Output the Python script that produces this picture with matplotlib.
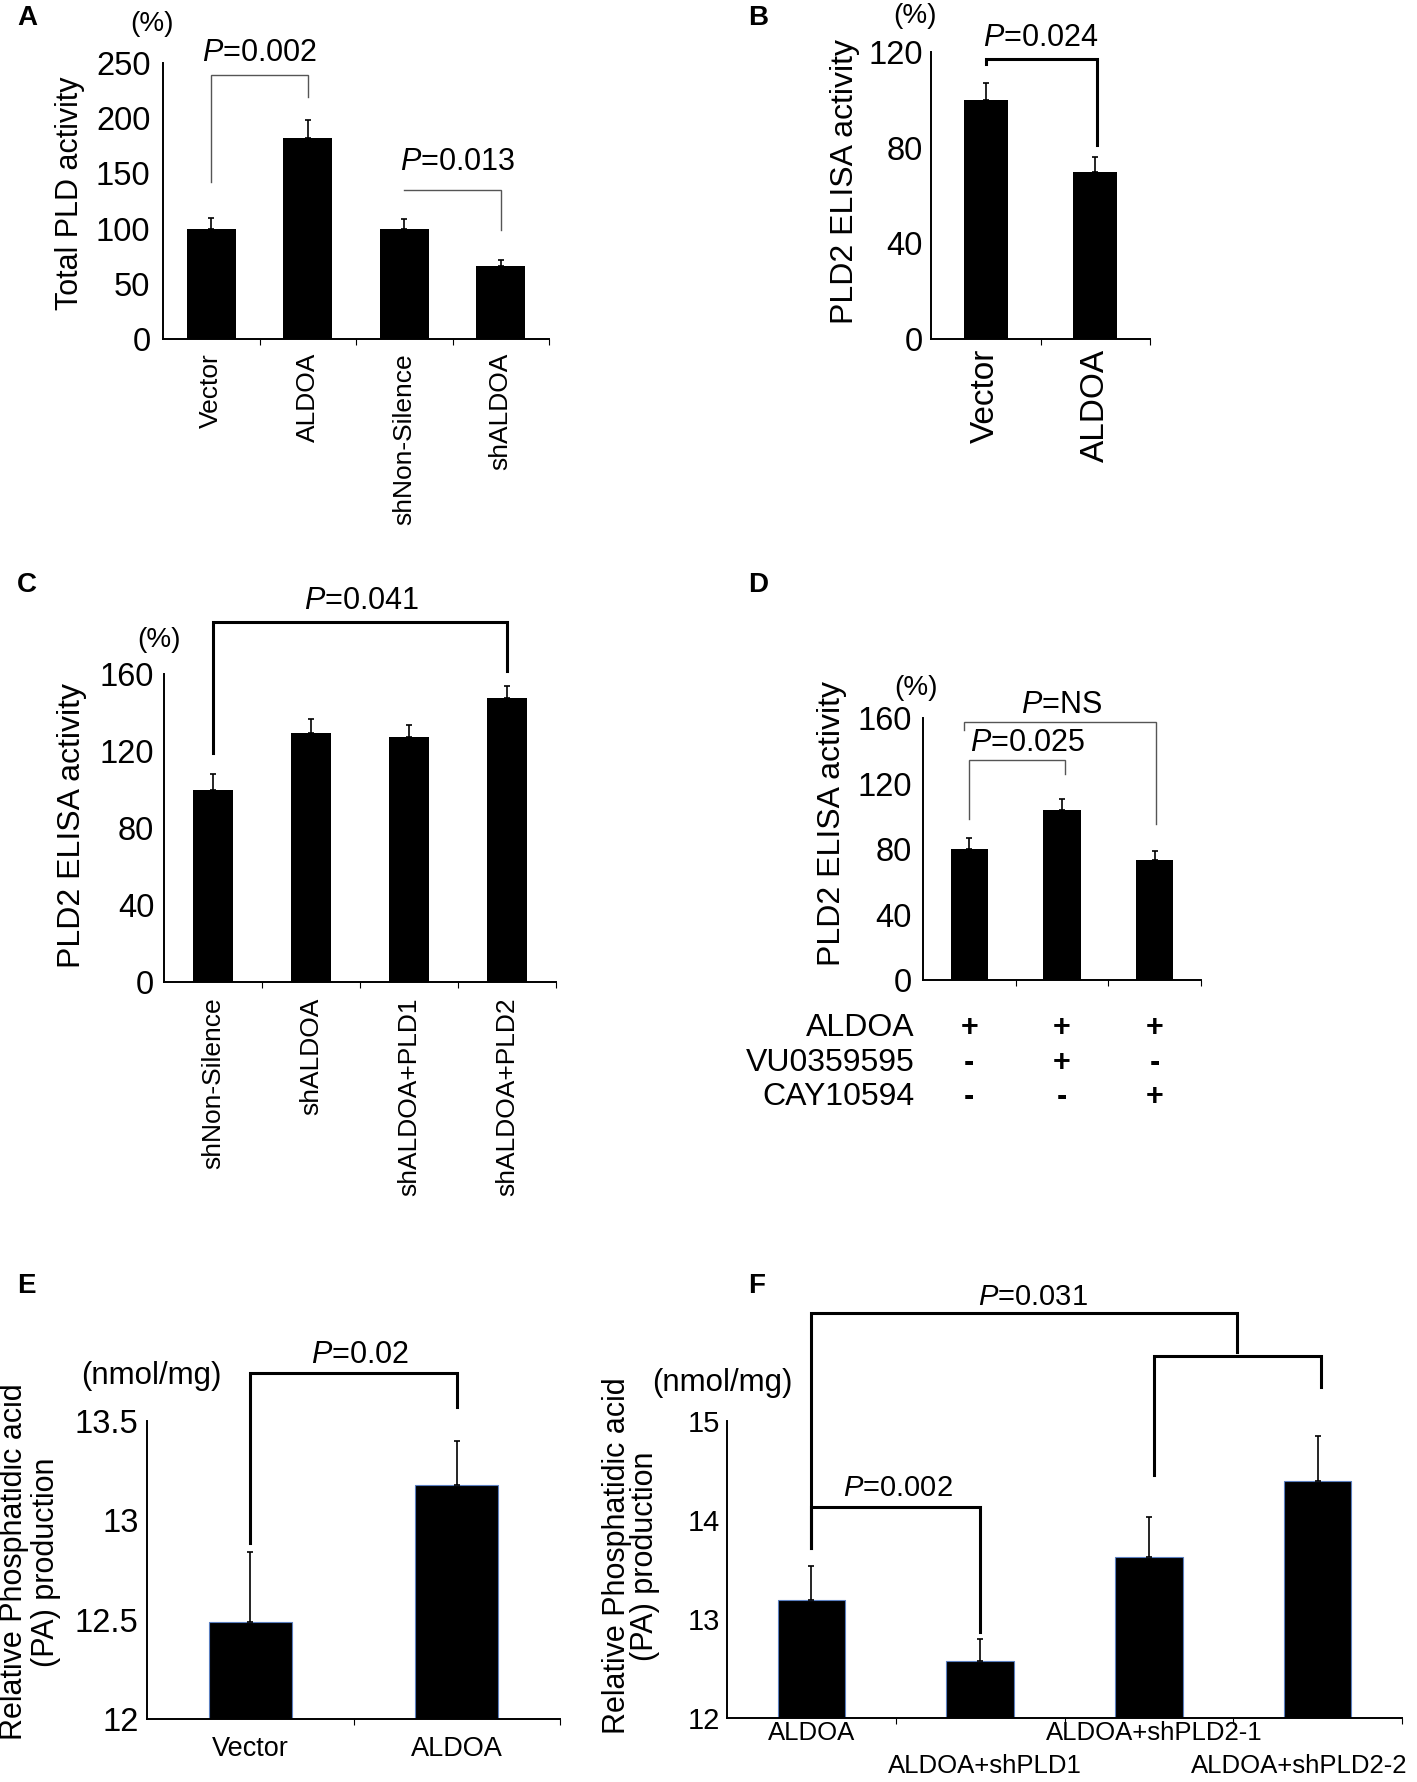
import matplotlib
matplotlib.use("Agg")
import matplotlib.pyplot as plt
import numpy as np

plt.rcParams['font.family'] = ['Liberation Sans', 'DejaVu Sans']
plt.rcParams['mathtext.fontset'] = 'custom'
plt.rcParams['mathtext.it'] = 'Liberation Sans:italic'
plt.rcParams['mathtext.rm'] = 'Liberation Sans'

# ---------------- data ----------------
a_cats = ["Vector", "ALDOA", "shNon-Silence", "shALDOA"]
a_vals = [100, 182, 100, 66]
a_err = [10, 16, 9, 6]

b_cats = ["Vector", "ALDOA"]
b_vals = [100, 70]
b_err = [7, 6]

c_cats = ["shNon-Silence", "shALDOA", "shALDOA+PLD1", "shALDOA+PLD2"]
c_vals = [100, 129.5, 127.5, 147.5]
c_err = [8, 7, 6, 6.5]

d_vals = [80, 104, 73]
d_err = [7, 6.5, 6]
d_rows = ["ALDOA", "VU0359595", "CAY10594"]
d_signs = [["+", "+", "+"], ["-", "+", "-"], ["-", "-", "+"]]

e_cats = ["Vector", "ALDOA"]
e_vals = [12.49, 13.18]
e_err = [0.35, 0.22]

f_cats = ["ALDOA", "ALDOA+shPLD1", "ALDOA+shPLD2-1", "ALDOA+shPLD2-2"]
f_vals = [13.19, 12.58, 13.63, 14.39]
f_err = [0.35, 0.22, 0.40, 0.46]

# brackets: (x_left, x_right, y_top, y_left_end, y_right_end)
a_brackets = [(0, 1, 239, 142, 219), (2, 3, 135, 135, 99)]
a_ptext = [(0.5, 259, "$P$=0.002"), (2.55, 160, "$P$=0.013")]
b_brackets = [(0, 1.02, 117, 115, 81)]
b_ptext = [(0.5, 126, "$P$=0.024")]
c_brackets = [(0, 3, 187, 119, 161.5)]
c_ptext = [(1.52, 198, "$P$=0.041")]
d_brackets = [(-0.06, 2.01, 157.8, 152.4, 95.3), (0, 1.03, 134.5, 98.5, 126)]
d_ptext = [(0.99, 168, "$P$=NS"), (0.63, 145, "$P$=0.025")]
e_brackets = [(0, 1, 13.74, 12.885, 13.57)]
e_ptext = [(0.53, 13.83, "$P$=0.02")]
f_brackets = [(0, 1, 14.13, 13.72, 12.87), (0, 2.52, 16.09, 13.72, 15.70),
              (2.03, 3.02, 15.66, 14.45, 15.34)]
f_ptext = [(0.51, 14.32, "$P$=0.002"), (1.31, 16.25, "$P$=0.031")]

W, H = 1417, 1782
fig = plt.figure(figsize=(W / 100, H / 100), dpi=100)

TICK_FS = 23.5


def ax_at(l, r, t, b):
    return fig.add_axes([l / W, 1 - b / H, (r - l) / W, (b - t) / H])


def ftxt(x, y, s, **kw):
    fig.text(x / W, 1 - y / H, s, **kw)


def base(ax, vals, err, width, ylim, yticks, ytl, tick_fs, ypad, edge=None):
    n = len(vals)
    x = np.arange(n)
    kw = {}
    if edge:
        kw = dict(edgecolor=edge, linewidth=0.8)
    ax.bar(x, vals, width=width, color='black', zorder=2, **kw)
    ax.errorbar(x, vals, yerr=[np.zeros(n), err], fmt='none', ecolor='black',
                elinewidth=1.2, capsize=2, capthick=1.2, zorder=3)
    ax.set_xlim(-0.5, n - 0.5)
    ax.set_ylim(*ylim)
    ax.set_yticks(yticks)
    ax.set_yticklabels(ytl, fontsize=tick_fs)
    ax.tick_params(axis='y', length=0, pad=ypad)
    ax.set_xticks(x)
    ax.set_xticks(np.arange(n) + 0.5, minor=True)
    ax.tick_params(axis='x', which='minor', length=4, width=0.8, direction='out')
    ax.tick_params(axis='x', which='major', length=0)
    for s in ['top', 'right']:
        ax.spines[s].set_visible(False)
    for s in ['left', 'bottom']:
        ax.spines[s].set_linewidth(1.4)
    return x


def brackets(ax, brs, color, lw):
    for (x1, x2, yt, yl, yr) in brs:
        ax.plot([x1, x1, x2, x2], [yl, yt, yt, yr], color=color, lw=lw,
                clip_on=False, solid_joinstyle='miter', zorder=4)


def ptexts(ax, items, fs):
    for (x, y, s) in items:
        ax.text(x, y, s, fontsize=fs, ha='center', va='center', clip_on=False)


LET_FS = 20

# ---------------- A ----------------
axA = ax_at(163, 549, 63, 339)
base(axA, a_vals, a_err, 0.51, (0, 250), [0, 50, 100, 150, 200, 250],
     ["0", "50", "100", "150", "200", "250"], TICK_FS, 9)
axA.set_xticklabels(a_cats, rotation=90, fontsize=19, va='top')
axA.tick_params(axis='x', which='major', pad=10)
brackets(axA, a_brackets, '#555555', 1.0)
ptexts(axA, a_ptext, 22)
ftxt(70, 193, "Total PLD activity", rotation=90, ha='center', va='center', fontsize=22)
ftxt(152, 24, "(%)", ha='center', va='center', fontsize=20)
ftxt(17, 18, "A", ha='left', va='center', fontsize=LET_FS, fontweight='bold')

# ---------------- B ----------------
axB = ax_at(931, 1150, 52, 339)
base(axB, b_vals, b_err, 0.40, (0, 120), [0, 40, 80, 120], ["0", "40", "80", "120"],
     TICK_FS, 6)
axB.set_xticklabels(b_cats, rotation=90, fontsize=24, va='top')
axB.tick_params(axis='x', which='major', pad=7)
brackets(axB, b_brackets, 'black', 2.2)
ptexts(axB, b_ptext, 22)
ftxt(845, 181, "PLD2 ELISA activity", rotation=90, ha='center', va='center', fontsize=23)
ftxt(915, 16, "(%)", ha='center', va='center', fontsize=20)
ftxt(748, 18, "B", ha='left', va='center', fontsize=LET_FS, fontweight='bold')

# ---------------- C ----------------
axC = ax_at(164, 556, 674, 982)
base(axC, c_vals, c_err, 0.41, (0, 160), [0, 40, 80, 120, 160],
     ["0", "40", "80", "120", "160"], TICK_FS, 7)
axC.set_xticklabels(c_cats, rotation=90, fontsize=19, va='top')
axC.tick_params(axis='x', which='major', pad=11)
brackets(axC, c_brackets, 'black', 2.2)
ptexts(axC, c_ptext, 22)
ftxt(72, 825, "PLD2 ELISA activity", rotation=90, ha='center', va='center', fontsize=23)
ftxt(159, 640, "(%)", ha='center', va='center', fontsize=20)
ftxt(17, 585, "C", ha='left', va='center', fontsize=LET_FS, fontweight='bold')

# ---------------- D ----------------
axD = ax_at(923, 1201, 718, 980)
xd = base(axD, d_vals, d_err, 0.40, (0, 160), [0, 40, 80, 120, 160],
          ["0", "40", "80", "120", "160"], TICK_FS, 8)
axD.set_xticklabels([])
brackets(axD, d_brackets, '#555555', 1.0)
ptexts(axD, d_ptext, 22)
row_y = [-0.183, -0.317, -0.447]
trD = axD.get_xaxis_transform()
for ri, (name, signs) in enumerate(zip(d_rows, d_signs)):
    axD.text(-0.03, row_y[ri], name, transform=axD.transAxes, ha='right',
             va='center', fontsize=23)
    for xi, sg in zip(xd, signs):
        axD.text(xi, row_y[ri], sg, transform=trD, ha='center', va='center',
                 fontsize=22, fontweight='bold')
ftxt(832, 824, "PLD2 ELISA activity", rotation=90, ha='center', va='center', fontsize=23)
ftxt(916, 688, "(%)", ha='center', va='center', fontsize=20)
ftxt(748, 585, "D", ha='left', va='center', fontsize=LET_FS, fontweight='bold')

# ---------------- E ----------------
axE = ax_at(147, 560, 1421, 1719)
base(axE, e_vals, e_err, 0.40, (12, 13.5), [12, 12.5, 13, 13.5],
     ["12", "12.5", "13", "13.5"], TICK_FS, 6, edge='#5b7fc0')
axE.set_xticklabels(e_cats, fontsize=19.5, va='top')
axE.tick_params(axis='x', which='major', pad=12)
brackets(axE, e_brackets, 'black', 2.2)
ptexts(axE, e_ptext, 22)
ftxt(30, 1562, "Relative Phosphatidic acid\n(PA) production", rotation=90,
     ha='center', va='center', fontsize=22, linespacing=1.05, multialignment='center')
ftxt(151, 1376, "(nmol/mg)", ha='center', va='center', fontsize=22.5)
ftxt(17, 1286, "E", ha='left', va='center', fontsize=LET_FS, fontweight='bold')

# ---------------- F ----------------
axF = ax_at(727, 1402, 1421, 1718)
xf = base(axF, f_vals, f_err, 0.40, (12, 15), [12, 13, 14, 15],
          ["12", "13", "14", "15"], 21, 5, edge='#5b7fc0')
axF.set_xticklabels([])
trF = axF.get_xaxis_transform()
f_lab_dx = [0, 0.03, 0.03, -0.11]
for i, (xi, lab) in enumerate(zip(xf, f_cats)):
    yy = -0.05 if i % 2 == 0 else -0.162
    axF.text(xi + f_lab_dx[i], yy, lab, transform=trF, ha='center', va='center',
             fontsize=18.5)
brackets(axF, f_brackets, 'black', 2.2)
ptexts(axF, f_ptext, 21)
ftxt(631, 1556, "Relative Phosphatidic acid\n(PA) production", rotation=90,
     ha='center', va='center', fontsize=22, linespacing=0.95, multialignment='center')
ftxt(722, 1383, "(nmol/mg)", ha='center', va='center', fontsize=22.5)
ftxt(748, 1286, "F", ha='left', va='center', fontsize=LET_FS, fontweight='bold')

fig.savefig("out.png", dpi=100, facecolor='white')
